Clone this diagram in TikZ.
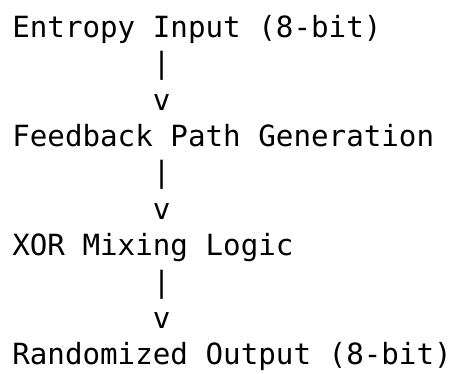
\documentclass[tikz,border=0pt]{standalone}
\usepackage{fontspec}
\setmonofont{DejaVu Sans Mono}
\usetikzlibrary{positioning}

\tikzset{
    txtline/.style={font=\ttfamily\fontsize{21.9}{26.9}\selectfont, inner sep=0pt,
        text height=16pt, text depth=5pt, anchor=north west},
}

\begin{document}
\begin{tikzpicture}
            \useasboundingbox (0,0) rectangle (342pt,-280.5pt);
            \node[txtline] (entropy) at (9pt,-11.75pt) {Entropy Input (8-bit)};
            \node[txtline, below right=5.9pt and 105.5pt of entropy.south west] (bar1) {|};
            \node[txtline, below=5.9pt of bar1] (arr1) {v};
            \node[txtline, below right=5.9pt and -105.5pt of arr1.south west] (feedback) {Feedback Path Generation};
            \node[txtline, below right=5.9pt and 105.5pt of feedback.south west] (bar2) {|};
            \node[txtline, below=5.9pt of bar2] (arr2) {v};
            \node[txtline, below right=5.9pt and -105.5pt of arr2.south west] (xormix) {XOR Mixing Logic};
            \node[txtline, below right=5.9pt and 105.5pt of xormix.south west] (bar3) {|};
            \node[txtline, below=5.9pt of bar3] (arr3) {v};
            \node[txtline, below right=5.9pt and -105.5pt of arr3.south west] (output) {Randomized Output (8-bit)};
        \end{tikzpicture}
\end{document}
